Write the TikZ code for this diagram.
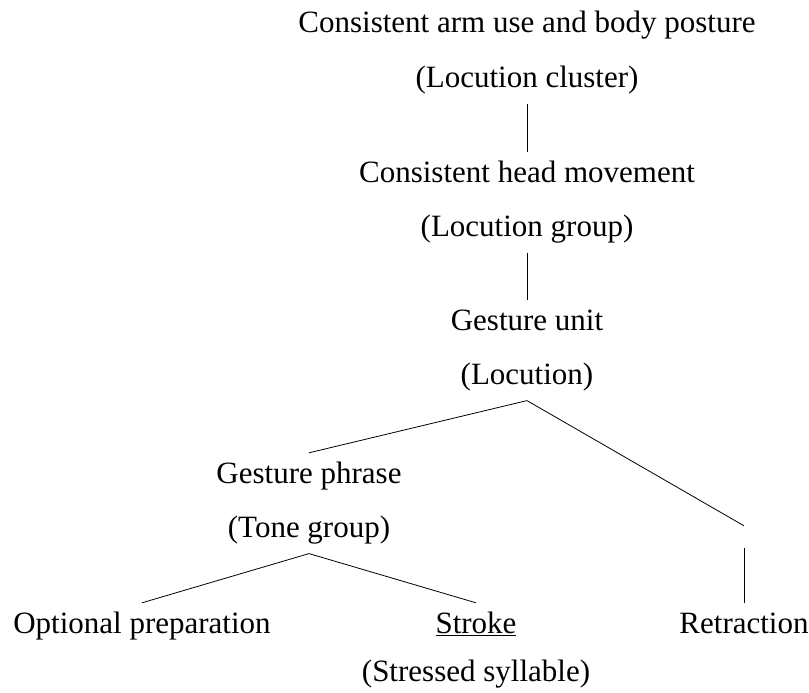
\documentclass[tikz,border=0pt]{standalone}
\usepackage{fontspec}
\setmainfont{Liberation Serif}
\usetikzlibrary{positioning}
\tikzset{
  treelbl/.style={
    inner xsep=2pt,
    inner ysep=8pt,
    text height=22pt,
    text depth=8pt,
    anchor=base,
    font=\fontsize{31}{37}\selectfont
  },
  gapnode/.style={inner sep=0pt,minimum height=22pt,minimum width=0pt},
  branch/.style={draw=black,line width=0.8pt}
}
\begin{document}
\begin{tikzpicture}[x=1pt,y=-1pt,node distance=8pt]
\useasboundingbox (0,0) rectangle (809,693);
% upper levels
\node[treelbl] (armuse) at (527,33) {Consistent arm use and body posture};
\node[treelbl,below=of armuse] (cluster) {(Locution cluster)};
\node[treelbl] (headmove) at (527,182) {Consistent head movement};
\node[treelbl,below=of headmove] (group) {(Locution group)};
\node[treelbl] (unit) at (527,330) {Gesture unit};
\node[treelbl,below=of unit] (locution) {(Locution)};
% gesture phrase and its parts
\node[treelbl] (phrase) at (309,483) {Gesture phrase};
\node[treelbl,below=of phrase] (tone) {(Tone group)};
\node[treelbl] (prep) at (142,633) {Optional preparation};
\node[treelbl] (stroke) at (476,633) {\underline{Stroke}};
\node[treelbl,below=2pt of stroke] (stressed) {(Stressed syllable)};
\node[gapnode] (retrgap) at (744,537) {};
\node[treelbl] (retr) at (744,633) {Retraction};
% branches
\draw[branch] (cluster.south) -- (headmove.north);
\draw[branch] (group.south) -- (unit.north);
\draw[branch] (locution.south) -- (phrase.north);
\draw[branch] (locution.south) -- (retrgap.north);
\draw[branch] (retrgap.south) -- (retr.north);
\draw[branch] (tone.south) -- (prep.north);
\draw[branch] (tone.south) -- (stroke.north);
\end{tikzpicture}
\end{document}
